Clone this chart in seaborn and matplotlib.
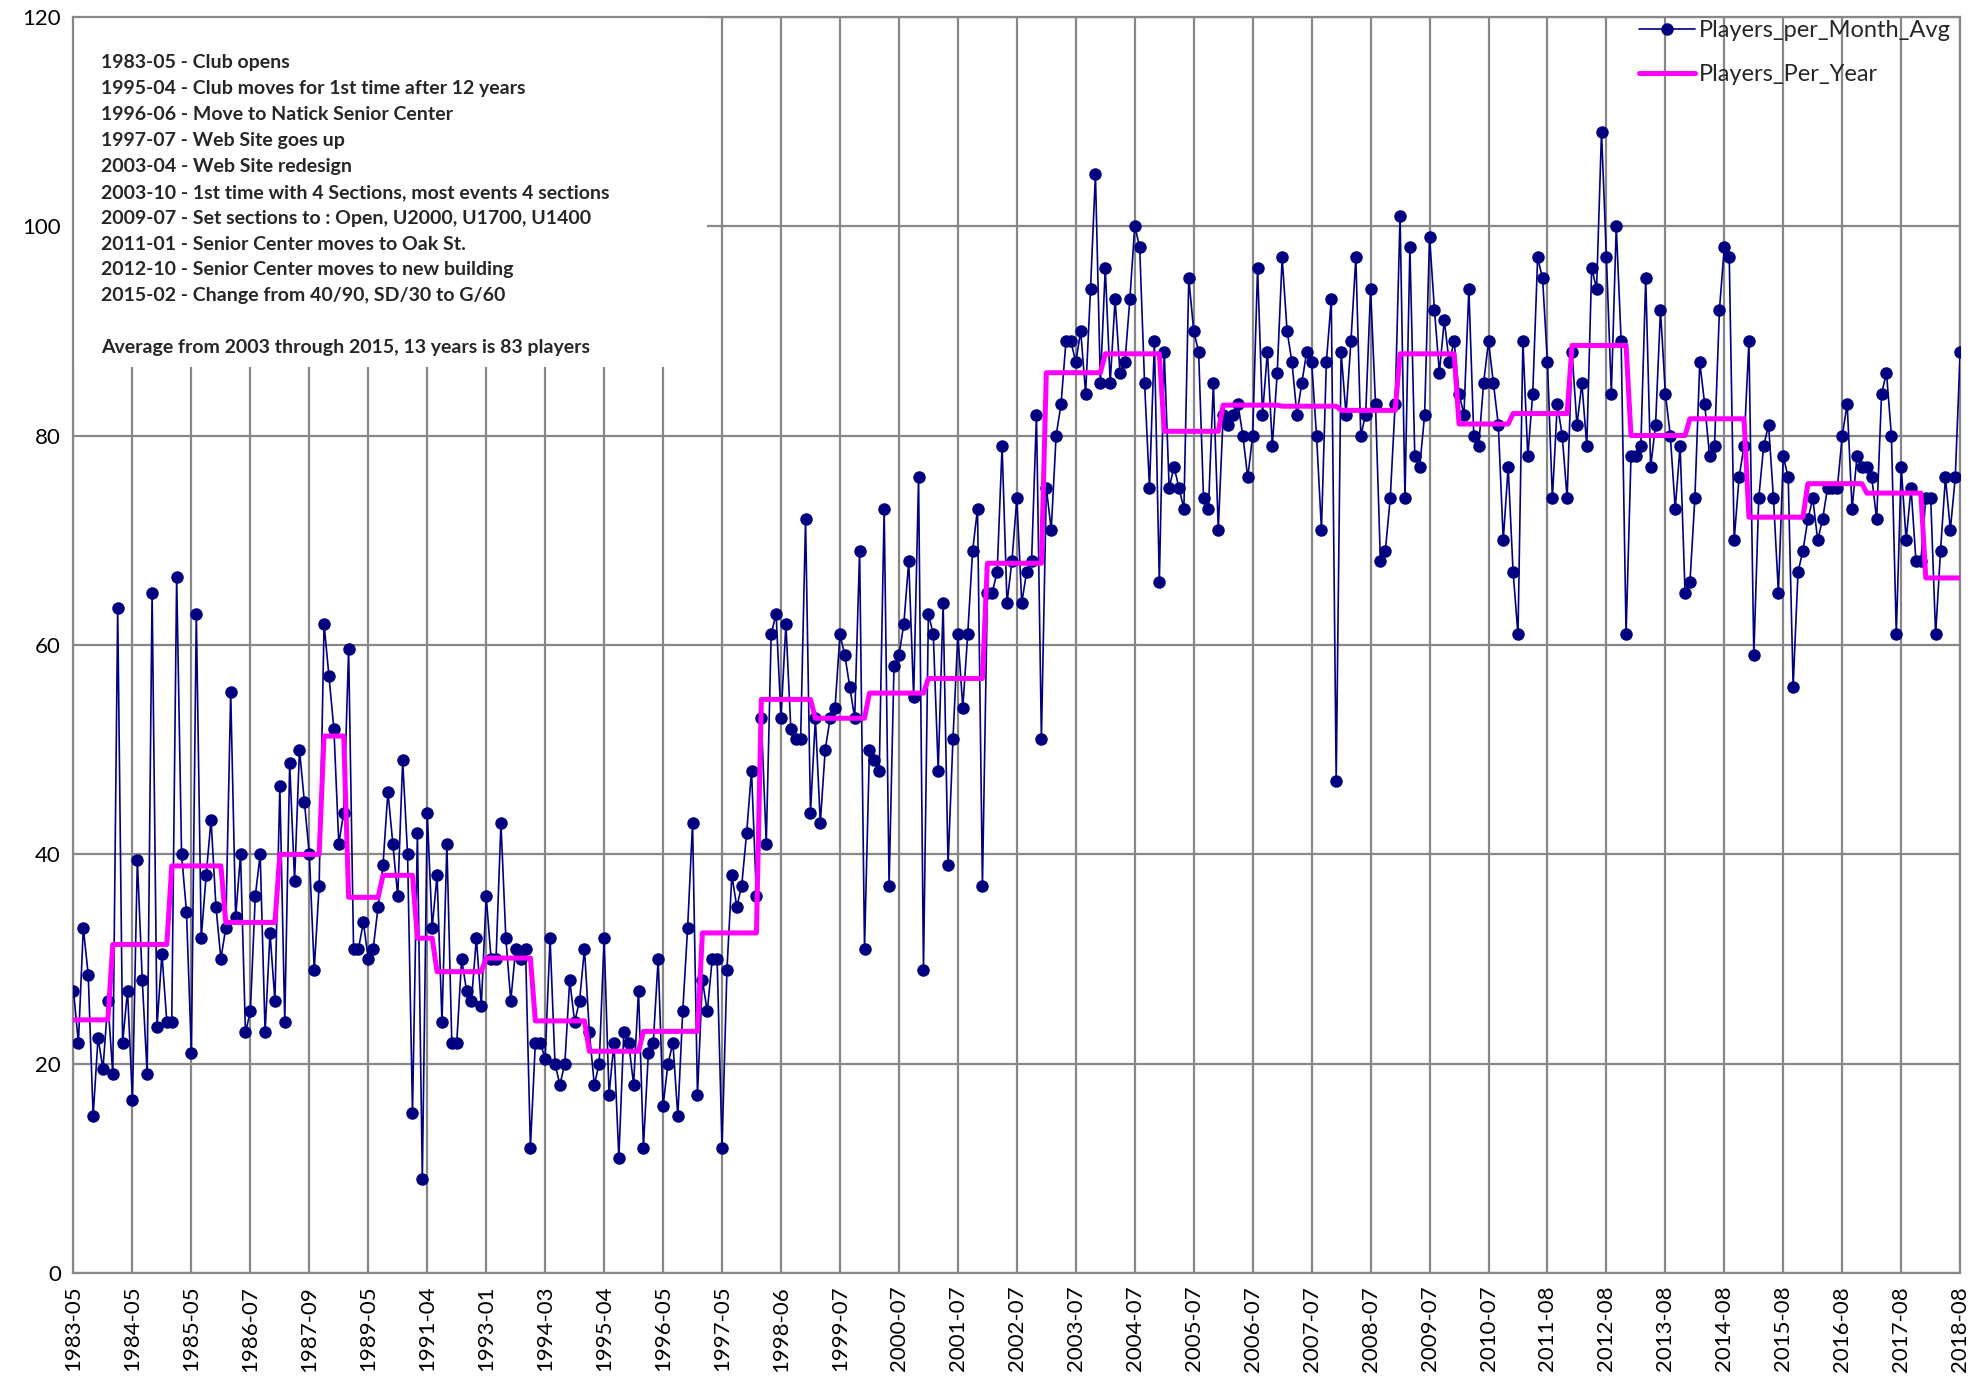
import numpy as np
import pandas as pd
import matplotlib.pyplot as plt
from matplotlib.patches import Rectangle
import seaborn as sns

# ---- data ----
tick_labels = ['1983-05', '1984-05', '1985-05', '1986-07', '1987-09', '1989-05',
               '1991-04', '1993-01', '1994-03', '1995-04', '1996-05', '1997-05',
               '1998-06', '1999-07', '2000-07', '2001-07', '2002-07', '2003-07',
               '2004-07', '2005-07', '2006-07', '2007-07', '2008-07', '2009-07',
               '2010-07', '2011-08', '2012-08', '2013-08', '2014-08', '2015-08',
               '2016-08', '2017-08', '2018-08']

# monthly average players, one line per calendar year
month_avg = [
    27, 22, 33, 28.5, 15, 22.5, 19.5, 26,                       # 1983
    19, 63.5, 22, 27, 16.5, 39.5, 28, 19, 65, 23.5, 30.5, 24,   # 1984
    24, 66.5, 40, 34.5, 21, 63, 32, 38, 43.3, 35, 30,           # 1985
    33, 55.5, 34, 40, 23, 25, 36, 40, 23, 32.5, 26,             # 1986
    46.5, 24, 48.7, 37.5, 50, 45, 40, 29, 37,                   # 1987
    62, 57, 52, 41, 44,                                         # 1988
    59.6, 31, 31, 33.5, 30, 31, 35,                             # 1989
    39, 46, 41, 36, 49, 40, 15.3,                               # 1990
    42, 9, 44, 33,                                              # 1991
    38, 24, 41, 22, 22, 30, 27, 26, 32, 25.5,                   # 1992
    36, 30, 30, 43, 32, 26, 31, 30, 31, 12,                     # 1993
    22, 22, 20.5, 32, 20, 18, 20, 28, 24, 26, 31,               # 1994
    23, 18, 20, 32, 17, 22, 11, 23, 22, 18, 27,                 # 1995
    12, 21, 22, 30, 16, 20, 22, 15, 25, 33, 43, 17,             # 1996
    28, 25, 30, 30, 12, 29, 38, 35, 37, 42, 48, 36,             # 1997
    53, 41, 61, 63, 53, 62, 52, 51, 51, 72, 44,                 # 1998
    53, 43, 50, 53, 54, 61, 59, 56, 53, 69, 31,                 # 1999
    50, 49, 48, 73, 37, 58, 59, 62, 68, 55, 76, 29,             # 2000
    63, 61, 48, 64, 39, 51, 61, 54, 61, 69, 73, 37,             # 2001
    65, 65, 67, 79, 64, 68, 74, 64, 67, 68, 82, 51,             # 2002
    75, 71, 80, 83, 89, 89, 87, 90, 84, 94, 105, 85,            # 2003
    96, 85, 93, 86, 87, 93, 100, 98, 85, 75, 89, 66,            # 2004
    88, 75, 77, 75, 73, 95, 90, 88, 74, 73, 85, 71,             # 2005
    82, 81, 82, 83, 80, 76, 80, 96, 82, 88, 79, 86,             # 2006
    97, 90, 87, 82, 85, 88, 87, 80, 71, 87, 93, 47,             # 2007
    88, 82, 89, 97, 80, 82, 94, 83, 68, 69, 74, 83,             # 2008
    101, 74, 98, 78, 77, 82, 99, 92, 86, 91, 87, 89,            # 2009
    84, 82, 94, 80, 79, 85, 89, 85, 81, 70, 77, 67,             # 2010
    61, 89, 78, 84, 97, 95, 87, 74, 83, 80, 74,                 # 2011
    88, 81, 85, 79, 96, 94, 109, 97, 84, 100, 89, 61,           # 2012
    78, 78, 79, 95, 77, 81, 92, 84, 80, 73, 79, 65,             # 2013
    66, 74, 87, 83, 78, 79, 92, 98, 97, 70, 76, 79,             # 2014
    89, 59, 74, 79, 81, 74, 65, 78, 76, 56, 67, 69,             # 2015
    72, 74, 70, 72, 75, 75, 75, 80, 83, 73, 78, 77,             # 2016
    77, 76, 72, 84, 86, 80, 61, 77, 70, 75, 68, 68,             # 2017
    74, 74, 61, 69, 76, 71, 76, 88,                             # 2018
]

years = list(range(1983, 2019))
months_per_year = [8, 12, 11, 11, 9, 5, 7, 7, 4, 10, 10, 11, 11, 12, 12, 11, 11,
                   12, 12, 12, 12, 12, 12, 12, 12, 12, 12, 11, 12, 12, 12, 12, 12,
                   12, 12, 8]
year_avg = [24.2, 31.4, 38.9, 33.5, 40.0, 51.3, 35.9, 38.0, 32.0, 28.8, 30.1, 24.1,
            21.2, 23.1, 32.5, 54.8, 53.0, 55.4, 56.8, 67.8, 86.0, 87.8, 80.4, 82.9,
            82.8, 82.4, 87.8, 81.1, 82.1, 88.6, 80.0, 81.6, 72.2, 75.4, 74.5, 66.4]

notes = [
    '1983-05 - Club opens',
    '1995-04 - Club moves for 1st time after 12 years',
    '1996-06 - Move to Natick Senior Center',
    '1997-07 - Web Site goes up',
    '2003-04 - Web Site redesign',
    '2003-10 - 1st time with 4 Sections, most events 4 sections',
    '2009-07 - Set sections to : Open, U2000, U1700, U1400',
    '2011-01 - Senior Center moves to Oak St.',
    '2012-10 - Senior Center moves to new building',
    '2015-02 - Change from 40/90, SD/30 to G/60',
    '',
    'Average from 2003 through 2015, 13 years is 83 players',
]

# ---- build frame ----
n = len(month_avg)
df = pd.DataFrame({
    'pos': np.arange(n),
    'Players_per_Month_Avg': month_avg,
    'Players_Per_Year': np.repeat(year_avg, months_per_year),
})

sns.set_theme(style='white')
plt.rcParams['font.family'] = ['Lato', 'DejaVu Sans']

fig, ax = plt.subplots(figsize=(19.86, 13.87), dpi=100)
fig.subplots_adjust(left=0.037, right=0.987, top=0.988, bottom=0.082)

sns.lineplot(data=df, x='pos', y='Players_per_Month_Avg', ax=ax, color='#000080',
             linewidth=1.2, marker='o', markersize=9, markeredgewidth=0,
             label='Players_per_Month_Avg', zorder=3)
sns.lineplot(data=df, x='pos', y='Players_Per_Year', ax=ax, color='#FF00FF',
             linewidth=3.6, label='Players_Per_Year', zorder=4)

# axes, grid
grid_col = '#878787'
ax.set_xlim(0, n - 1)
ax.set_ylim(0, 120)
ax.set_yticks(range(0, 121, 20))
ax.set_xticks(range(0, n, 12))
ax.set_xticklabels(tick_labels, rotation=90)
ax.set_xlabel('')
ax.set_ylabel('')
ax.grid(True, color=grid_col, linewidth=1.6)
ax.set_axisbelow(True)
for sp in ax.spines.values():
    sp.set_color(grid_col)
    sp.set_linewidth(1.6)
ax.tick_params(axis='both', labelsize=16, colors='black', length=6, width=1.4,
               direction='out', pad=3)
ax.tick_params(axis='both', color=grid_col)

# white note box in the upper left, covering the grid
ax.add_patch(Rectangle((0, 0.721), 0.336, 0.279, transform=ax.transAxes,
                       facecolor='white', edgecolor='none', zorder=1))
ax.text(0.0146, 0.970, '\n'.join(notes), transform=ax.transAxes, va='top', ha='left',
        fontsize=14, fontweight='bold', linespacing=1.635, zorder=5)

leg = ax.legend(loc='upper right', bbox_to_anchor=(1.0, 1.005), frameon=False,
                fontsize=17, handlelength=2.4, labelspacing=1.0, borderaxespad=0,
                handletextpad=0.15)

fig.savefig('out.png', dpi=100)
